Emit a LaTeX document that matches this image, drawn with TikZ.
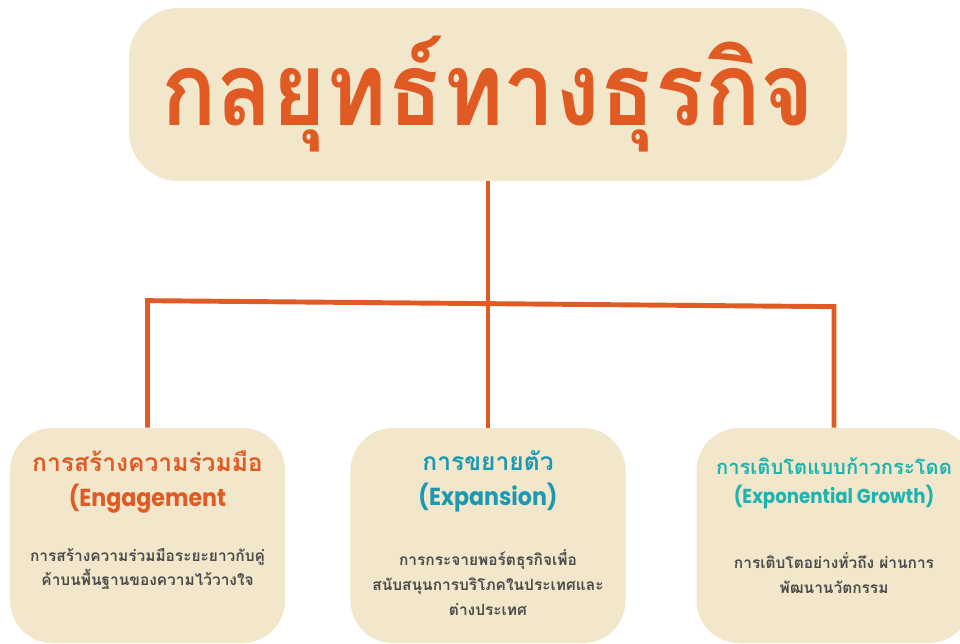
\documentclass[tikz,border=0pt]{standalone}
\usepackage{fontspec}
\usepackage{tikz}
\usetikzlibrary{positioning}
\setmainfont[Script=Thai]{Loma}
\newfontfamily\titlefont[Script=Thai, FakeStretch=0.9]{Loma}
\newfontfamily\engfont[FakeStretch=0.9]{Poppins}

\definecolor{strategyorange}{HTML}{E05A24}
\definecolor{expandblue}{HTML}{1B99B3}
\definecolor{growthteal}{HTML}{1DB3AE}
\definecolor{boxcream}{HTML}{F2E6CB}
\definecolor{descgray}{HTML}{4B4B4B}

\tikzstyle{titlebox} = [rectangle, rounded corners=1cm, minimum width=14.36cm, minimum height=3.46cm, inner sep=0pt, fill=boxcream, text=strategyorange, font=\titlefont\fontsize{58}{64}\selectfont\bfseries]
\tikzstyle{areabox} = [rectangle, rounded corners=0.85cm, minimum width=5.5cm, minimum height=4.3cm, fill=boxcream]
\tikzstyle{heading} = [align=center, inner sep=0pt, font=\fontsize{14}{20}\selectfont\bfseries]
\tikzstyle{desc} = [align=center, inner sep=0pt, text=descgray, font=\fontsize{8.8}{14.2}\selectfont\bfseries]
\tikzstyle{branch} = [line width=2.8pt, draw=strategyorange]

\begin{document}
\begin{tikzpicture}[node distance=2cm]
        \useasboundingbox (-9.76,1.89) rectangle (9.44,-10.97);
        \clip (-9.76,1.89) rectangle (9.44,-10.97);

        \node (strategy) [titlebox] {กลยุทธ์ทางธุรกิจ};
        \node (expansion) [areabox, below of=strategy, yshift=-6.82cm] {};
        \node (engagement) [areabox, left of=expansion, xshift=-4.81cm] {};
        \node (growth) [areabox, right of=expansion, xshift=4.92cm] {};

        \node (engagement_head) [heading, text=strategyorange, below=0.45cm of engagement.north] {การสร้างความร่วมมือ\\{\engfont (Engagement}};
        \node (expansion_head) [heading, text=expandblue, below=0.45cm of expansion.north] {การขยายตัว\\{\engfont (Expansion)}};
        \node (growth_head) [heading, text=growthteal, font=\fontsize{11.5}{16}\selectfont\bfseries, below=0.6cm of growth.north] {การเติบโตแบบก้าวกระโดด\\{\engfont (Exponential Growth)}};

        \node (engagement_desc) [desc, below=2.4cm of engagement.north] {การสร้างความร่วมมือระยะยาวกับคู่\\ค้าบนพื้นฐานของความไว้วางใจ};
        \node (expansion_desc) [desc, below=2.44cm of expansion.north] {การกระจายพอร์ตธุรกิจเพื่อ\\สนับสนุนการบริโภคในประเทศและ\\ต่างประเทศ};
        \node (growth_desc) [desc, below=2.5cm of growth.north] {การเติบโตอย่างทั่วถึง ผ่านการ\\พัฒนานวัตกรรม};

        \coordinate (split_left) at ([yshift=2.54cm]engagement.north);
        \coordinate (split_right) at ([yshift=2.42cm]growth.north);

        \draw [branch] (strategy) -- (expansion);
        \draw [branch] (engagement) -- (split_left) -- (split_right) -- (growth);
    \end{tikzpicture}
\end{document}
